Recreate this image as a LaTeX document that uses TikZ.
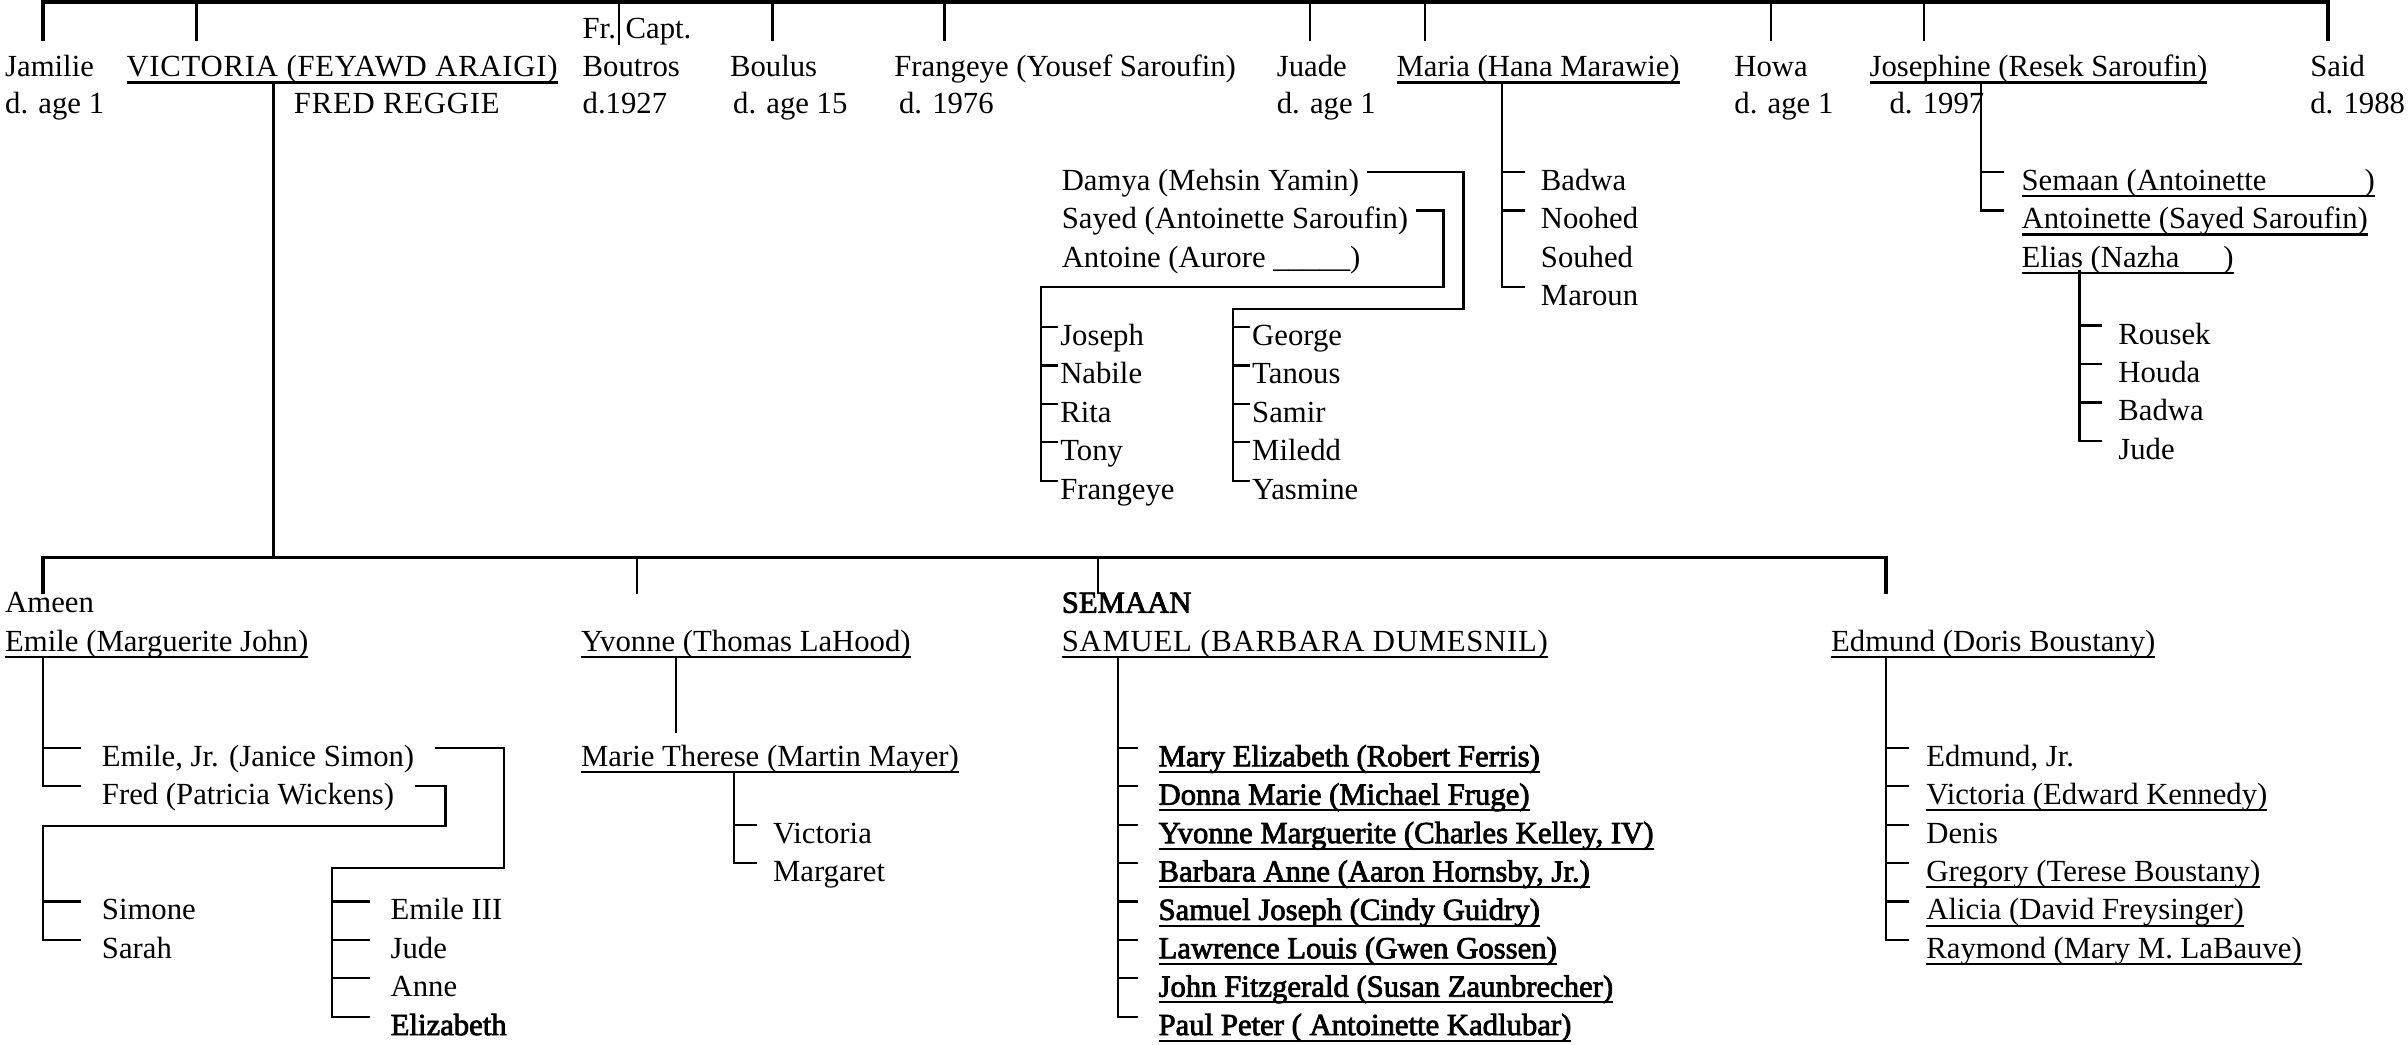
\documentclass[tikz,border=0pt]{standalone}
\usepackage{fontspec}
\setmainfont{Liberation Serif}
\newfontfamily\boldish[FakeBold=2.5]{Liberation Serif}
\newfontfamily\capsx[LetterSpace=2.5]{Liberation Serif}
\newcommand\ulx[1]{\setbox0=\hbox{#1}\rlap{\vrule height -1.5pt depth 2.2pt width \wd0}\box0}
\usetikzlibrary{calc}
\begin{document}
\begin{tikzpicture}[x=0.5pt,y=-0.5pt,
  every node/.style={font=\fontsize{10}{12}\selectfont},
  txt/.style={anchor=base west,inner sep=0pt},
  kid/.style={anchor=base west,inner xsep=#1,inner ysep=0pt,text height=12pt,text depth=0pt},
  kid/.default=5pt,
  ln/.style={line width=0.75pt},
  thinln/.style={line width=0.6pt},
  bar/.style={line width=1.2pt}]
\useasboundingbox (0,0) rectangle (1568,680);

% ---------- first generation ----------
\node[txt] (jam)  at (3,50)   {Jamilie};
\node[txt] (jamd) at (3,74)   {d. age 1};
\node[txt] (vic)  at (82,50)  {\capsx\ulx{VICTORIA (FEYAWD ARAIGI)}};
\node[txt] (fred) at (191,74) {\capsx FRED REGGIE};
\node[txt] (fr)   at (379,25) {Fr.};
\node[txt] (capt) at (407,25) {Capt.};
\node[txt] (bou)  at (379,50) {Boutros};
\node[txt] (boud) at (379,74) {d.1927};
\node[txt] (bol)  at (475,50) {Boulus};
\node[txt] (bold) at (477,74) {d. age 15};
\node[txt] (fra)  at (582,50) {Frangeye (Yousef Saroufin)};
\node[txt] (frad) at (585,74) {d. 1976};
\node[txt] (jua)  at (831,50) {Juade};
\node[txt] (juad) at (831,74) {d. age 1};
\node[txt] (mar)  at (909,50) {\ulx{Maria (Hana Marawie)}};
\node[txt] (how)  at (1129,50) {Howa};
\node[txt] (howd) at (1129,74) {d. age 1};
\node[txt] (jos)  at (1217,50) {\ulx{Josephine (Resek Saroufin)}};
\node[txt] (josd) at (1230,74) {d. 1997};
\node[txt] (sai)  at (1504,50) {Said};
\node[txt] (said) at (1504,74) {d. 1988};

% top bar
\coordinate (tl) at (28,1.5);
\coordinate (tr) at (1516,1.5);
\draw[bar] (28,27) -- (tl) -- (tr) -- (1516,27);
\draw[ln] (816,1.5) -- (816,0);
\foreach \x in {128,503,615,853,928,1153,1253} \draw[ln] (\x,1.5) -- (\x,27);
\draw[ln] (403,1.5) -- (403,29);

% ---------- Frangeye's line ----------
\node[kid=2.5pt] (dam) at (686,124) {Damya (Mehsin Yamin)};
\node[kid=2.5pt] (say) at (686,149) {Sayed (Antoinette Saroufin)};
\node[kid=2.5pt] (ant) at (686,174) {Antoine (Aurore \_\_\_\_\_)};

\node[kid=0.5pt] (sk1) at (689,225) {Joseph};
\node[kid=0.5pt] (sk2) at (689,250) {Nabile};
\node[kid=0.5pt] (sk3) at (689,275) {Rita};
\node[kid=0.5pt] (sk4) at (689,300) {Tony};
\node[kid=0.5pt] (sk5) at (689,325) {Frangeye};
\node[kid=0.5pt] (dk1) at (814,225) {George};
\node[kid=0.5pt] (dk2) at (814,250) {Tanous};
\node[kid=0.5pt] (dk3) at (814,275) {Samir};
\node[kid=0.5pt] (dk4) at (814,300) {Miledd};
\node[kid=0.5pt] (dk5) at (814,325) {Yasmine};

\coordinate (sst) at (678,187);
\coordinate (dst) at (803,201);
\draw[ln] (say.east) -| (940,187) -- (sst) |- (sk5.west);
\foreach \i in {1,2,3,4} \draw[ln] (sk\i.west) -- (sk\i.west -| sst);
\draw[ln] (dam.east) -| (953,201) -- (dst) |- (dk5.west);
\foreach \i in {1,2,3,4} \draw[ln] (dk\i.west) -- (dk\i.west -| dst);

% ---------- Maria's line ----------
\node[kid] (mk1) at (993,124) {Badwa};
\node[kid] (mk2) at (993,149) {Noohed};
\node[kid] (mk3) at (993,174) {Souhed};
\node[kid] (mk4) at (993,199) {Maroun};
\coordinate (mst) at (978,53);
\draw[ln] (mst) |- (mk4.west);
\foreach \i in {1,2} \draw[ln] (mk\i.west) -- (mk\i.west -| mst);

% ---------- Josephine's line ----------
\node[kid=5.5pt] (jk1) at (1305,124) {\ulx{\makebox[115pt][l]{Semaan (Antoinette\hfill)}}};
\node[kid=5.5pt] (jk2) at (1305,149) {\ulx{Antoinette (Sayed Saroufin)}};
\node[kid=5.5pt] (jk3) at (1305,174) {\ulx{\makebox[69pt][l]{Elias (Nazha\hfill)}}};
\coordinate (jst) at (1290,53);
\draw[ln] (jst) |- (jk2.west);
\draw[ln] (jk1.west) -- (jk1.west -| jst);

\node[kid] (ek1) at (1369,224) {Rousek};
\node[kid] (ek2) at (1369,249) {Houda};
\node[kid] (ek3) at (1369,274) {Badwa};
\node[kid] (ek4) at (1369,299) {Jude};
\coordinate (est) at (1354,176);
\draw[ln] (est) |- (ek4.west);
\foreach \i in {1,2,3} \draw[ln] (ek\i.west) -- (ek\i.west -| est);

% ---------- Victoria's children ----------
\coordinate (vst) at (178,53);
\coordinate (vbar) at (178,363);
\draw[ln] (vst) -- (vbar);
\draw[bar] (28,387) -- (28,363) -- (1228,363) -- (1228,387);
\draw[ln] (415,363) -- (415,387);
\draw[ln] (715,363) -- (715,387);

\node[txt] (ame) at (3,399) {Ameen};
\node[txt] (emi) at (3,424) {\ulx{Emile (Marguerite John)}};
\node[txt] (yvo) at (378,424) {\ulx{Yvonne (Thomas LaHood)}};
\node[txt] (sem) at (691,399) {\boldish SEMAAN};
\node[txt] (sam) at (691,424) {\capsx\ulx{SAMUEL (BARBARA DUMESNIL)}};
\node[txt] (edm) at (1192,424) {\ulx{Edmund (Doris Boustany)}};

% Emile
\node[kid=6.5pt] (ej)  at (53,499) {Emile, Jr. (Janice Simon)};
\node[kid=6.5pt] (ef)  at (53,524) {Fred (Patricia Wickens)};
\coordinate (emst) at (28,427);
\draw[ln] (emst) |- (ef.west);
\draw[ln] (ej.west) -- (ej.west -| emst);

\node[kid=6.5pt] (fk1) at (53,599) {Simone};
\node[kid=6.5pt] (fk2) at (53,624) {Sarah};
\coordinate (fst) at (28,538);
\draw[ln] (ef.east) -| (290,538) -- (fst) |- (fk2.west);
\draw[ln] (fk1.west) -- (fk1.west -| fst);

\node[kid=6.5pt] (ejk1) at (241,599) {Emile III};
\node[kid=6.5pt] (ejk2) at (241,624) {Jude};
\node[kid=6.5pt] (ejk3) at (241,649) {Anne};
\node[kid=6.5pt] (ejk4) at (241,674) {\boldish Elizabeth};
\coordinate (ejst) at (216,565);
\draw[ln] (ej.east) -| (328,565) -- (ejst) |- (ejk4.west);
\foreach \i in {1,2,3} \draw[ln] (ejk\i.west) -- (ejk\i.west -| ejst);

% Yvonne
\node[txt] (mt) at (378,499) {\ulx{Marie Therese (Martin Mayer)}};
\draw[thinln] (440,427) -- (440,477);
\node[kid] (mtk1) at (493,549) {Victoria};
\node[kid] (mtk2) at (493,574) {Margaret};
\coordinate (mtst) at (478,502);
\draw[thinln] (mtst) |- (mtk2.west);
\draw[thinln] (mtk1.west) -- (mtk1.west -| mtst);

% Samuel
\node[kid=6.5pt] (sa1) at (741,499) {\boldish\ulx{Mary Elizabeth (Robert Ferris)}};
\node[kid=6.5pt] (sa2) at (741,524) {\boldish\ulx{Donna Marie (Michael Fruge)}};
\node[kid=6.5pt] (sa3) at (741,549) {\boldish\ulx{Yvonne Marguerite (Charles Kelley, IV)}};
\node[kid=6.5pt] (sa4) at (741,574) {\boldish\ulx{Barbara Anne (Aaron Hornsby, Jr.)}};
\node[kid=6.5pt] (sa5) at (741,599) {\boldish\ulx{Samuel Joseph (Cindy Guidry)}};
\node[kid=6.5pt] (sa6) at (741,624) {\boldish\ulx{Lawrence Louis (Gwen Gossen)}};
\node[kid=6.5pt] (sa7) at (741,649) {\boldish\ulx{John Fitzgerald (Susan Zaunbrecher)}};
\node[kid=6.5pt] (sa8) at (741,674) {\boldish\ulx{Paul Peter ( Antoinette Kadlubar)}};
\coordinate (sast) at (728,427);
\draw[ln] (sast) |- (sa8.west);
\foreach \i in {1,...,7} \draw[ln] (sa\i.west) -- (sa\i.west -| sast);

% Edmund
\node[kid=5.5pt] (ed1) at (1243,499) {Edmund, Jr.};
\node[kid=5.5pt] (ed2) at (1243,524) {\ulx{Victoria (Edward Kennedy)}};
\node[kid=5.5pt] (ed3) at (1243,549) {Denis};
\node[kid=5.5pt] (ed4) at (1243,574) {\ulx{Gregory (Terese Boustany)}};
\node[kid=5.5pt] (ed5) at (1243,599) {\ulx{Alicia (David Freysinger)}};
\node[kid=5.5pt] (ed6) at (1243,624) {\ulx{Raymond (Mary M. LaBauve)}};
\coordinate (edst) at (1228,427);
\draw[ln] (edst) |- (ed6.west);
\foreach \i in {1,...,5} \draw[ln] (ed\i.west) -- (ed\i.west -| edst);
\end{tikzpicture}
\end{document}
